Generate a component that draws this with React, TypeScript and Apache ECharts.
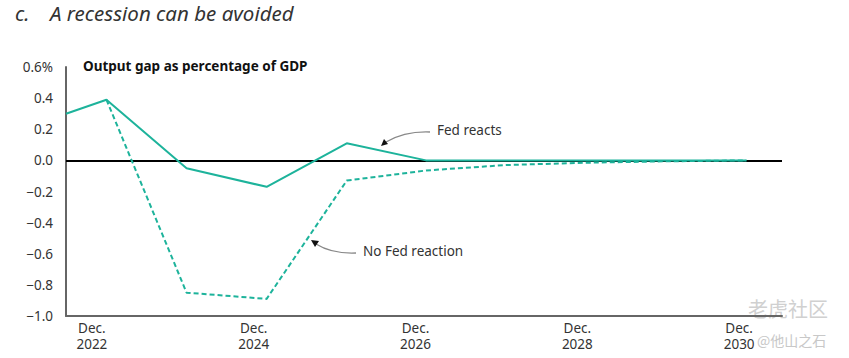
import React, { useEffect, useRef } from "react";
import * as echarts from "echarts";

const xYears = [2021.68, 2022.18, 2023.17, 2024.16, 2025.15, 2026.13, 2027.12, 2028.11, 2029.1, 2030.09];
const fedReacts = [0.3, 0.39, -0.05, -0.17, 0.11, 0.0, 0.0, 0.0, 0.0, 0.0];
const noFedReaction = [null, 0.39, -0.85, -0.89, -0.13, -0.065, -0.03, -0.015, -0.006, 0.0];
const xLabelYears = [2022, 2024, 2026, 2028, 2030];
const yTicks = [0.6, 0.4, 0.2, 0.0, -0.2, -0.4, -0.6, -0.8, -1.0];

const TEAL = "#1db39b";
const FONT = "'Noto Sans', sans-serif";

export default function App() {
  const ref = useRef<HTMLDivElement>(null);
  useEffect(() => {
    document.body.style.margin = "0";
    if (!ref.current) return;
    const chart = echarts.init(ref.current, undefined, { renderer: "svg" });
    const pair = (vals: (number | null)[]) =>
      xYears.map((x, i) => (vals[i] === null ? null : [x, vals[i]])).filter((d) => d !== null);
    chart.setOption({
      animation: false,
      backgroundColor: "#ffffff",
      textStyle: { fontFamily: FONT },
      grid: { left: 66, right: 67, top: 67, bottom: 42, containLabel: false },
      xAxis: {
        type: "value",
        min: 2021.68,
        max: 2030.53,
        splitLine: { show: false },
        axisTick: { show: false },
        axisLine: { show: true, onZero: false, lineStyle: { color: "#666", width: 2 } },
        axisLabel: {
          customValues: xLabelYears,
          formatter: (v: number) => "Dec.\n" + Math.round(v),
          color: "#333",
          fontSize: 13.5,
          lineHeight: 16,
          margin: 4,
          fontFamily: FONT,
        },
      },
      yAxis: {
        type: "value",
        min: -1.0,
        max: 0.6,
        interval: 0.2,
        splitLine: { show: false },
        axisTick: { show: false },
        axisLine: { show: true, lineStyle: { color: "#666", width: 2 } },
        axisLabel: {
          customValues: yTicks,
          color: "#333",
          fontSize: 13.5,
          margin: 13,
          fontFamily: FONT,
          formatter: (v: number) => {
            const r = Math.round(v * 10) / 10;
            const s = Math.abs(r).toFixed(1);
            if (r === 0.6) return "0.6%";
            return r < 0 ? "\u2212" + s : s;
          },
        },
      },
      series: [
        {
          name: "Fed reacts",
          type: "line",
          data: pair(fedReacts),
          symbol: "none",
          lineStyle: { color: TEAL, width: 2 },
          z: 3,
          markLine: {
            silent: true,
            symbol: "none",
            label: { show: false },
            lineStyle: { color: "#000", width: 2, type: "solid" },
            data: [{ yAxis: 0 }],
            z: 2,
          },
        },
        {
          name: "No Fed reaction",
          type: "line",
          data: pair(noFedReaction),
          symbol: "none",
          lineStyle: { color: TEAL, width: 2, type: [5, 3] },
          z: 3,
        },
      ],
      graphic: [
        {
          type: "text",
          left: 15,
          top: 3,
          style: { text: "c.", font: `italic 20.5px ${FONT}`, fill: "#333" },
        },
        {
          type: "text",
          left: 50,
          top: 3,
          style: { text: "A recession can be avoided", font: `italic 20.5px ${FONT}`, fill: "#333" },
        },
        {
          type: "text",
          left: 83,
          top: 59,
          style: { text: "Output gap as percentage of GDP", font: `bold 13.5px ${FONT}`, fill: "#111" },
        },
        {
          type: "text",
          left: 437,
          top: 123,
          style: { text: "Fed reacts", font: `13.5px ${FONT}`, fill: "#333" },
        },
        {
          type: "text",
          left: 363,
          top: 244,
          style: { text: "No Fed reaction", font: `13.5px ${FONT}`, fill: "#333" },
        },
        {
          type: "bezierCurve",
          shape: { x1: 430, y1: 132, cpx1: 405, cpy1: 131, x2: 386, y2: 142 },
          style: { stroke: "#888", lineWidth: 1.3, fill: "none" },
        },
        {
          type: "polygon",
          shape: { points: [[381, 146], [384, 139], [388, 144]] },
          style: { fill: "#111" },
        },
        {
          type: "bezierCurve",
          shape: { x1: 356, y1: 253, cpx1: 332, cpy1: 254, x2: 316, y2: 244 },
          style: { stroke: "#888", lineWidth: 1.3, fill: "none" },
        },
        {
          type: "polygon",
          shape: { points: [[311, 240], [319, 241], [315, 247]] },
          style: { fill: "#111" },
        },
        {
          type: "text",
          left: 748,
          top: 298,
          style: { text: "老虎社区", font: `20px 'Noto Sans CJK SC'`, fill: "#d0d0d0" },
        },
        {
          type: "text",
          left: 757,
          top: 333,
          style: { text: "@他山之石", font: `14px 'Noto Sans CJK SC'`, fill: "#c8c8c8" },
        },
      ],
    });
    return () => chart.dispose();
  }, []);
  return <div ref={ref} style={{ width: 849, height: 358 }} />;
}
